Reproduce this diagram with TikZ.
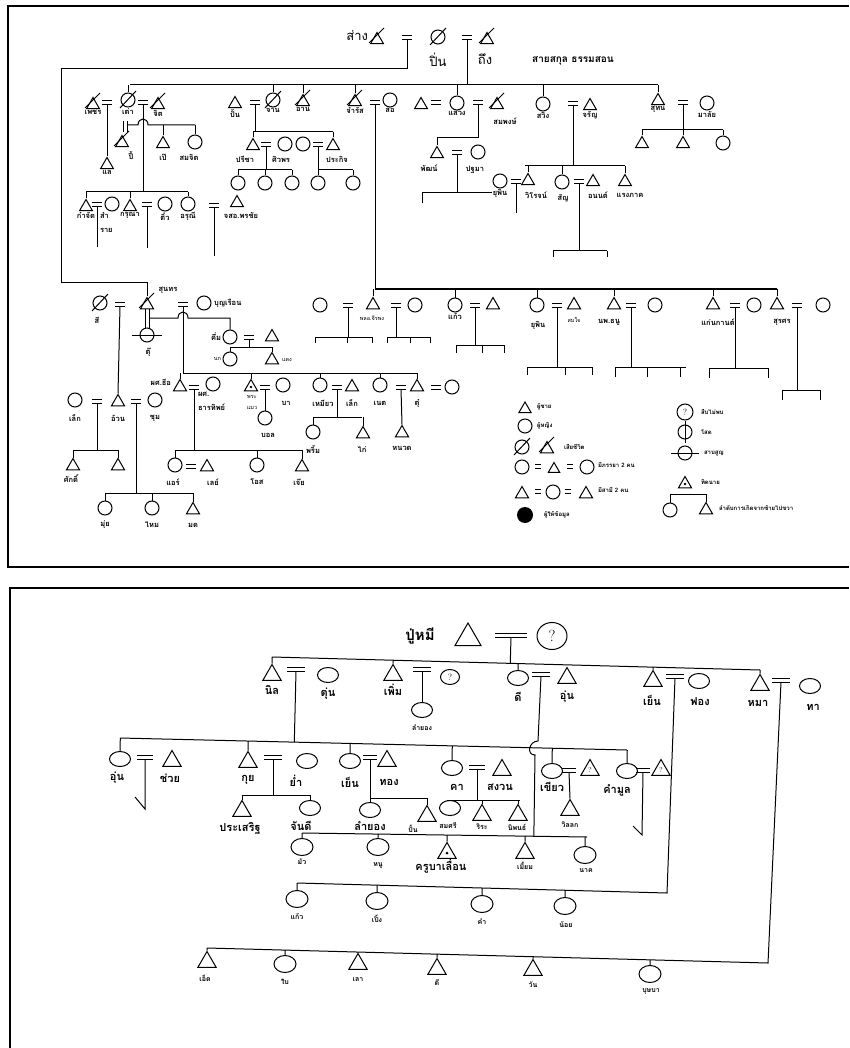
\documentclass[tikz,border=0pt]{standalone}
\usepackage{fontspec}
\newfontfamily\thai[Script=Thai]{Loma}
\usetikzlibrary{shapes.geometric,calc}
\tikzset{
  M/.style={regular polygon, regular polygon sides=3, draw, minimum size=15pt, inner sep=0pt},
  F/.style={circle, draw, minimum size=14pt, inner sep=0pt},
  MB/.style={regular polygon, regular polygon sides=3, draw, minimum size=21pt, inner sep=0pt},
  FB/.style={ellipse, draw, minimum width=21pt, minimum height=15pt, inner sep=0pt},
  lab/.style={font=\thai\bfseries\fontsize{7.5}{8}\selectfont, inner sep=0.5pt},
  slab/.style={font=\thai\fontsize{5.5}{6}\selectfont, inner sep=0.5pt},
  tlab/.style={font=\thai\fontsize{13}{14}\selectfont, inner sep=0.5pt},
  blab/.style={font=\thai\bfseries\fontsize{11}{12}\selectfont, inner sep=0.5pt},
  clab/.style={font=\thai\bfseries\fontsize{7}{8}\selectfont, inner sep=0.5pt},
  leg/.style={font=\thai\bfseries\fontsize{6}{7}\selectfont, inner sep=0.5pt, anchor=west},
}
\newcommand\mrg[4][10]{\coordinate (#2) at (#3,#4+2);
  \draw (#3-#1/2,#4-2) -- (#3+#1/2,#4-2) (#3-#1/2,#4+2) -- (#3+#1/2,#4+2);}
\newcommand\deadmk[1]{\draw ([shift={(-8,8)}]#1.center) -- ([shift={(8,-9)}]#1.center);}
\newcommand\deadtr[1]{\draw ([shift={(-8,3)}]#1.center) -- ([shift={(7,-12)}]#1.center);}
\newcommand\drp[3]{\draw (#1) -- ($(#2)!(#1)!(#3)$);}
\newcommand\tks[3]{\foreach \k in {#3} \draw (\k.north) -- ($(#1)!(\k.north)!(#2)$);}
\newcommand\frk[6]{\coordinate (#1L) at (#3,#2); \coordinate (#1R) at (#4,#2);
  \draw (#1L) -- (#1R); \drp{#1}{#1L}{#1R}
  \foreach \t in {#5}{\coordinate (#1E) at (\t,#2+#6); \draw (#1E) -- ++(0,-#6);}}
\begin{document}
\begin{tikzpicture}[x=1pt,y=-1pt,line width=1pt]
\useasboundingbox (0,0) rectangle (849,1048);
% ================= TOP PANEL =================
\draw[line width=1.3pt] (849,6) -- (8,6) -- (8,567) -- (849,567);
% founders
\node[M] (sang) at (377,40) {}; \deadtr{sang}
\node[tlab,anchor=east] (tsang) at (369,36) {ส่าง};
\mrg{m0}{407}{38}
\node[F] (pin) at (438,37) {}; \deadmk{pin}
\mrg{m0b}{467}{38}
\node[M] (thueng) at (487,40) {}; \deadtr{thueng}
\node[tlab] (tpin) at (438,60) {ปิ่น};
\node[tlab] (tthueng) at (485,59) {ถึง};
\node[font=\thai\bfseries\fontsize{10}{11}\selectfont] (tsakun) at (573,61) {สายสกุล ธรรมสอน};
% generation 1
\node[M,label={[lab]below:เพชร}] (phet) at (93,105) {}; \deadtr{phet}
\mrg{mPT}{107}{103}
\node[F,label={[lab]below:เต่า}] (tao) at (128,100) {}; \deadmk{tao}
\mrg{mTJ}{143}{103}
\node[M,label={[lab]below:จิต}] (jit) at (158,105) {}; \deadtr{jit}
\node[M,label={[lab]below:ปั้น}] (pan) at (235,104) {};
\mrg{mPJ}{255}{103}
\node[F,label={[lab]below:จาน}] (jan) at (273,100) {}; \deadmk{jan}
\node[M,label={[lab]below:อาน}] (aan) at (303,102) {}; \deadtr{aan}
\node[M,label={[lab]below:จำรัส}] (jamrat) at (355,102) {}; \deadtr{jamrat}
\mrg{mJS}{375}{103}
\node[F,label={[lab]below:สอ}] (so) at (390,100) {};
\node[M] (sawh) at (421,105) {};
\mrg{mSW1}{436}{103}
\node[F,label={[lab]below:แสวง}] (sawaeng) at (457,103) {};
\mrg{mSW2}{478}{103}
\node[M] (sompong) at (497,105) {}; \deadtr{sompong}
\node[lab] (tsompong) at (505,121) {สมพงษ์};
\node[F,label={[lab]below:สวิง}] (sawing) at (543,104) {};
\mrg{mJR}{573}{104}
\node[M,label={[lab]below:จรัญ}] (jaran) at (590,106) {};
\node[M,label={[lab]below:สุทน}] (suthon) at (658,101) {};
\mrg{mSM}{683}{103}
\node[F,label={[lab]below:มาลัย}] (malai) at (707,103) {};
\coordinate (g1L) at (130,85); \coordinate (g1R) at (658,85);
\draw (g1L) -- (g1R);
\drp{m0b}{g1L}{g1R}
\tks{g1L}{g1R}{tao,jan,aan,jamrat,sawaeng,sawing,suthon}
% sang -> sunthon
\coordinate (j1) at (61,69); \coordinate (j2) at (61,283);
% phet = tao
\node[M,label={[lab]below:แล}] (lae) at (107,165) {};
\draw (mPT) -- (lae.north);
% tao = jit, crossing line
\node[M] (pi) at (122,143) {}; \deadtr{pi}
\node[lab] (tpi) at (131,156) {ปี้};
\node[M] (pe) at (163,144) {};
\node[lab] (tpe) at (163,157) {เป๊};
\node[F] (somjit) at (195,142) {};
\node[lab] (tsomjit) at (189,157) {สมจิต};
\coordinate (h1L) at (127,125); \coordinate (h1R) at (195,125);
\draw (123,121) -- (123,132);
\draw (127,121) -- (127,132);
\draw (h1L) -- ++(11,0) .. controls +(0,-8) and +(0,-8) .. ++(10,0) -- (h1R);
\draw (pe.north) -- (pe.north |- h1R);
\draw (somjit.north) -- (somjit.north |- h1R);
\coordinate (g2L) at (86,192); \coordinate (g2R) at (188,192);
\draw (g2L) -- (g2R); \drp{mTJ}{g2L}{g2R}
\node[M,label={[lab]below:ก๋าจัด}] (kajat) at (86,207) {};
\mrg{mKS}{97}{205}
\node[F] (samrai) at (112,204) {};
\node[lab,anchor=west] (tsam1) at (99,215) {สำ};
\node[lab,anchor=west] (tsam2) at (99,230) {ราย};
\node[M,label={[lab]below:กรุณา}] (karuna) at (130,207) {};
\mrg{mKT}{147}{205}
\node[F,label={[lab]below:ติ๋ว}] (tiw) at (165,204) {};
\node[F,label={[lab]below:อรุณี}] (arunee) at (188,204) {};
\mrg{mAP}{214}{206}
\node[M] (pornchai) at (237,203) {};
\node[lab] (tporn) at (241,215) {จสอ.พรชัย};
\tks{g2L}{g2R}{kajat,karuna,arunee}
\coordinate (e1) at (97,247); \draw (mKS) -- (e1);
\coordinate (e2) at (147,248); \draw (mKT) -- (e2);
\coordinate (e3) at (214,256); \draw (mAP) -- (e3);
% pan = jan
\coordinate (g5L) at (253,132); \coordinate (g5R) at (333,132);
\draw (g5L) -- (g5R); \drp{mPJ}{g5L}{g5R}
\node[M] (preecha) at (253,146) {}; \node[lab] (tpree) at (245,159) {ปรีชา};
\mrg{mPS}{266}{145}
\node[F] (siwaporn) at (285,144) {}; \node[lab] (tsiwa) at (281,159) {ศิวพร};
\node[F] (cx) at (303,144) {};
\mrg{mCP}{318}{145}
\node[M] (prakit) at (333,146) {}; \node[lab] (tprakit) at (337,159) {ประกิจ};
\tks{g5L}{g5R}{preecha,prakit}
\coordinate (g6L) at (238,170); \coordinate (g6R) at (292,170);
\draw (g6L) -- (g6R); \drp{mPS}{g6L}{g6R}
\node[F] (k61) at (238,183) {}; \node[F] (k62) at (265,183) {}; \node[F] (k63) at (292,183) {};
\tks{g6L}{g6R}{k61,k62,k63}
\coordinate (g7L) at (318,170); \coordinate (g7R) at (353,170);
\draw (g7L) -- (g7R); \drp{mCP}{g7L}{g7R}
\node[F] (k71) at (318,183) {}; \node[F] (k72) at (353,183) {};
\tks{g7L}{g7R}{k71,k72}
% jamrat = so -> big line
\coordinate (g3L) at (375,289); \coordinate (g3R) at (777,289);
\draw (mJS) -- (g3L) -- (g3R);
% sawaeng = sompong
\coordinate (k1) at (478,138);
\node[M] (phat) at (437,154) {}; \node[lab] (tphat) at (429,168) {พัฒน์};
\draw (mSW2) -- (k1) -| (phat.north);
\mrg{mPP}{457}{153}
\node[F] (pathama) at (478,152) {}; \node[lab] (tpath) at (475,170) {ปฐมา};
\coordinate (g8L) at (422,193); \coordinate (f1) at (422,203);
\node[lab] (yupin1) at (500,193) {ยุพิน};
\draw (f1) -- (g8L) -- (yupin1.west); \drp{mPP}{g8L}{yupin1.west}
% jaran
\coordinate (g9L) at (525,166); \coordinate (g9R) at (625,166);
\draw (g9L) -- (g9R); \drp{mJR}{g9L}{g9R}
\node[F] (cw) at (500,181) {};
\mrg{mVW}{516}{182}
\node[M] (wirot) at (528,181) {}; \node[lab] (twirot) at (536,195) {วิโรจน์};
\coordinate (f2) at (516,213); \draw (mVW) -- (f2);
\node[F] (san) at (562,182) {}; \node[lab] (tsan) at (563,198) {สัญ};
\mrg{mSA}{579}{182}
\node[M] (anon) at (593,182) {}; \node[lab] (tanon) at (598,195) {อนนต์};
\node[M] (raeng) at (625,182) {}; \node[lab] (traeng) at (630,195) {แรงภาค};
\tks{g9L}{g9R}{wirot,san,raeng}
\frk{mSA}{251}{553}{607}{553,607}{6}
% suthon = malai
\coordinate (g10L) at (642,130); \coordinate (g10R) at (723,130);
\draw (g10L) -- (g10R); \drp{mSM}{g10L}{g10R}
\node[M] (s1) at (642,144) {}; \node[M] (s2) at (683,144) {}; \node[F] (s3) at (723,143) {};
\tks{g10L}{g10R}{s1,s2,s3}
% lower left
\node[F] (lee) at (100,303) {}; \deadmk{lee}
\node[lab] (tlee) at (97,320) {สี};
\mrg{mLS}{120}{304}
\node[M] (sunthon) at (147,305) {}; \deadtr{sunthon}
\node[lab] (tsunthon) at (168,290) {สุนทร};
\draw (m0) |- (j1) -- (j2) -| (sunthon.north);
\node[F] (tu) at (147,335) {};
\draw ([xshift=-15]tu.center) -- ([xshift=15]tu.center);
\node[lab] (ttu) at (148,352) {ตุ๊};
\draw ([xshift=-2]sunthon.south) -- ([xshift=-2]tu.north);
\draw ([xshift=2]sunthon.south) -- ([xshift=2]tu.north);
\mrg{mSB}{183}{304}
\node[F] (bunruean) at (204,303) {};
\node[lab,anchor=west] (tbun) at (213,303) {บุญเรือน};
\node[F] (kuem) at (230,337) {}; \node[lab,anchor=east] (tkuem) at (222,337) {คึ่ม};
\coordinate (h2L) at (149,318);
\draw (h2L) -- ++(29,0) .. controls +(0,-8) and +(0,-8) .. ++(10,0) -| (kuem.north);
\mrg{mKM2}{249}{337}
\node[M] (km) at (272,337) {};
\coordinate (g11L) at (230,347); \coordinate (g11R) at (272,347);
\draw (g11L) -- (g11R); \drp{mKM2}{g11L}{g11R}
\node[F] (nok) at (230,359) {}; \node[slab,anchor=east] (tnok) at (222,359) {นก};
\node[M] (daeng) at (272,360) {}; \node[slab,anchor=west] (tdaeng) at (281,360) {แดง};
\tks{g11L}{g11R}{nok,daeng}
\coordinate (g4L) at (183,373); \coordinate (g4R) at (417,373);
\draw (g4L) -- (g4R); \drp{mSB}{g4L}{g4R}
\node[M] (tee) at (180,387) {}; \node[lab,anchor=east] (ttee) at (172,382) {ผศ.ธีอ};
\mrg{mTT}{194}{387}
\node[F] (thip) at (213,384) {};
\node[lab,anchor=west] (tthip1) at (197,394) {ผศ.};
\node[lab,anchor=west] (tthip2) at (197,407) {ธารทิพย์};
\node[M] (phra) at (251,387) {}; \fill (phra.center) circle (1.3);
\node[slab] (tphra1) at (252,397) {พระ}; \node[slab] (tphra2) at (252,408) {แมว};
\mrg{mPB}{265}{387}
\node[F] (ba) at (283,385) {}; \node[lab] (tba) at (286,403) {บา};
\node[F] (bon) at (265,418) {}; \node[lab] (tbon) at (268,435) {บอล};
\draw (mPB) -- (bon.north);
\node[F] (miaw) at (320,385) {}; \node[lab] (tmiaw) at (323,403) {เหมียว};
\mrg{mML}{337}{387}
\node[M] (lek) at (352,387) {}; \node[lab] (tlek) at (352,403) {เล็ก};
\coordinate (g12L) at (313,417); \coordinate (g12R) at (362,417);
\draw (g12L) -- (g12R); \drp{mML}{g12L}{g12R}
\node[F] (phrim) at (313,432) {}; \node[lab] (tphrim) at (313,450) {พริ้ม};
\node[M] (kai) at (363,434) {}; \node[lab] (tkai) at (362,450) {ไก่};
\tks{g12L}{g12R}{phrim,kai}
\node[F] (net) at (380,385) {}; \node[lab] (tnet) at (380,403) {เนต};
\mrg{mNT}{401}{387}
\node[M] (tu2) at (417,387) {}; \node[lab] (ttu2) at (417,403) {ตุ๋};
\node[M] (nuat) at (402,433) {}; \node[lab] (tnuat) at (402,448) {หนวด};
\draw (mNT) -- (nuat.north);
\mrg{mT2}{436}{387}
\node[F] (c452) at (452,387) {};
\tks{g4L}{g4R}{tee,phra,miaw,net,tu2}
\coordinate (g13L) at (175,450); \coordinate (g13R) at (302,450);
\draw (g13L) -- (g13R); \drp{mTT}{g13L}{g13R}
\node[F] (air) at (175,465) {}; \node[lab] (tair) at (173,482) {แอร์};
\mrg{mAL}{191}{466}
\node[M] (lei) at (207,467) {}; \node[lab] (tlei) at (213,482) {เลย์};
\node[F] (oas) at (257,465) {}; \node[lab] (toas) at (257,482) {โอส};
\node[M] (oei) at (302,467) {}; \node[lab] (toei) at (299,482) {เจ๊ย};
\tks{g13L}{g13R}{air,oas,oei}
\node[F] (lek2) at (75,400) {}; \node[lab] (tlek2) at (75,418) {เล็ก};
\mrg{mLU}{97}{401}
\node[M] (uan) at (118,402) {}; \node[lab] (tuan) at (118,418) {อ้วน};
\draw (mLS) -- (uan.north);
\mrg{mUC}{136}{401}
\node[F] (chum) at (155,400) {}; \node[lab] (tchum) at (155,418) {ชุม};
\coordinate (g14L) at (73,450); \coordinate (g14R) at (118,450);
\draw (g14L) -- (g14R); \drp{mLU}{g14L}{g14R}
\node[M] (sak) at (73,466) {}; \node[lab] (tsak) at (71,479) {ศักดิ์};
\node[M] (sak2) at (118,466) {};
\tks{g14L}{g14R}{sak,sak2}
\coordinate (g15L) at (105,493); \coordinate (g15R) at (193,493);
\draw (g15L) -- (g15R); \drp{mUC}{g15L}{g15R}
\node[F] (mui) at (105,508) {}; \node[lab] (tmui) at (105,525) {มุ่ย};
\node[F] (mai) at (152,508) {}; \node[lab] (tmai) at (152,525) {ไหม};
\node[M] (mot) at (193,510) {}; \node[lab] (tmot) at (193,525) {มด};
\tks{g15L}{g15R}{mui,mai,mot}
% big line row
\node[F] (c320) at (320,305) {};
\mrg{mC1}{348}{305}
\node[M] (pol) at (373,305) {}; \node[slab] (tpol) at (372,318) {พลอ.จีรพง};
\mrg{mC2}{396}{305}
\node[F] (c415) at (415,305) {};
\node[F,label={[lab]below:แก้ว}] (kaew) at (455,305) {};
\mrg{mKW}{475}{305}
\node[M] (kw) at (493,305) {};
\node[F] (yupin2) at (537,305) {}; \node[lab] (tyupin2) at (538,325) {ยุพิน};
\mrg{mYP}{557}{305}
\node[M] (somjai) at (574,305) {}; \node[slab] (tsomjai) at (574,320) {สมใจ};
\node[M] (thanu) at (614,305) {}; \node[lab] (tthanu) at (609,322) {นพ.ธนู};
\mrg{mTN}{631}{305}
\node[F] (c655) at (655,305) {};
\node[M] (kaen) at (713,305) {}; \node[lab] (tkaen) at (718,322) {แก่นกานต์};
\mrg{mKN}{735}{305}
\node[F] (c754) at (754,305) {};
\node[M] (suras) at (777,305) {}; \node[lab] (tsuras) at (782,322) {สุรศร};
\mrg{mSR}{797}{305}
\node[F] (c823) at (823,305) {};
\tks{g3L}{g3R}{pol,kaew,yupin2,thanu,kaen,suras}
\frk{mC1}{337}{315}{372}{315,347,372}{6}
\frk{mC2}{337}{387}{430}{387,410,430}{6}
\frk{mKW}{345}{456}{504}{456,482,504}{8}
\frk{mYP}{367}{527}{592}{527,565,592}{8}
\frk{mTN}{367}{615}{686}{615,647,680}{10}
\frk{mKN}{368}{709}{768}{709,768}{10}
\frk{mSR}{390}{782}{820}{782,820}{10}
% legend
\node[M,minimum size=14pt] (lgm) at (525,409) {}; \node[leg] (tlgm) at (536,407) {ผู้ชาย};
\node[F] (lgf) at (525,426) {}; \node[leg] (tlgf) at (536,426) {ผู้หญิง};
\node[F] (lgd1) at (522,447) {}; \deadmk{lgd1}
\node[M] (lgd2) at (547,449) {}; \deadtr{lgd2}
\node[leg] (tlgd) at (563,447) {เสียชีวิต};
\node[F] (lw1) at (522,467) {}; \mrg[6]{lwm1}{538}{466} \node[M,minimum size=13pt] (lw2) at (554,469) {};
\mrg[6]{lwm2}{570}{466} \node[F] (lw3) at (587,467) {}; \node[leg] (tlw) at (597,465) {มีภรรยา 2 คน};
\node[M] (lh1) at (522,494) {}; \mrg[6]{lhm1}{538}{491} \node[F] (lh2) at (553,492) {};
\mrg[6]{lhm2}{568}{491} \node[M] (lh3) at (586,494) {}; \node[leg] (tlh) at (597,490) {มีสามี 2 คน};
\node[circle,fill,minimum size=16pt,inner sep=0] (lginf) at (525,515) {}; \node[leg] (tlginf) at (543,515) {ผู้ให้ข้อมูล};
\node[F,minimum size=16pt] (lgq) at (685,412) {\fontsize{9}{9}\selectfont ?}; \node[leg] (tlgq) at (700,412) {สืบไม่พบ};
\node[F] (lgs) at (685,432) {}; \draw ([yshift=-11]lgs.center) -- ([yshift=11]lgs.center);
\node[leg] (tlgs) at (700,432) {โสด};
\node[F] (lgl) at (685,453) {}; \draw ([xshift=-14]lgl.center) -- ([xshift=14]lgl.center);
\node[leg] (tlgl) at (703,453) {สาบสูญ};
\node[M] (lgt) at (685,484) {}; \fill (lgt.center) circle (1.3); \node[leg] (tlgt) at (700,482) {ทิดนาย};
\node[F] (lgo1) at (670,510) {}; \node[M] (lgo2) at (706,510) {};
\draw (lgo1.north) -- ++(0,-8) -| (lgo2.north);
\node[leg] (tlgo) at (718,508) {ลำดับการเกิดจากซ้ายไปขวา};
% ================= BOTTOM PANEL =================
\draw[line width=1.3pt] (849,588) -- (10,588) -- (10,1048);
\node[font=\thai\bfseries\fontsize{15}{16}\selectfont] (tpumi) at (420,636) {ปู่หมี};
\node[regular polygon, regular polygon sides=3, draw, minimum size=30pt, inner sep=0] (mi) at (468,638) {};
\mrg[32]{mQ}{511}{635}
\node[ellipse,draw,minimum width=30pt,minimum height=27pt,inner sep=0] (qa) at (552,636) {\fontsize{16}{16}\selectfont ?};
\coordinate (b1L) at (272,657); \coordinate (b1R) at (760,670);
\draw (b1L) -- (b1R); \drp{mQ}{b1L}{b1R}
\node[MB] (nil) at (272,675) {}; \node[blab] (tnil) at (272,690) {นิล};
\mrg[18]{mNT1}{296}{669}
\node[FB] (tun) at (328,675) {}; \node[blab] (ttun) at (328,694) {ตุ่น};
\node[MB] (phoem) at (393,675) {}; \node[blab] (tphoem) at (393,690) {เพิ่ม};
\mrg[18]{mPQ}{422}{669}
\node[ellipse,draw,minimum width=19pt,minimum height=15pt,inner sep=0] (qb) at (450,677) {\fontsize{9}{9}\selectfont ?};
\node[FB] (lamyong1) at (422,710) {}; \node[clab] (tlam1) at (422,728) {ลำยอง};
\draw (mPQ) -- (lamyong1.north);
\node[FB] (dee) at (518,678) {}; \node[blab] (tdee) at (518,697) {ดี};
\mrg[18]{mDU}{541}{674}
\node[MB] (un) at (567,678) {}; \node[blab] (tun1) at (567,697) {อุ่น};
\node[MB] (yen) at (653,681) {}; \node[blab] (tyen) at (652,700) {เย็น};
\mrg[18]{mYF}{675}{676}
\node[FB] (fong) at (699,681) {}; \node[blab] (tfong) at (700,702) {ฟอง};
\node[MB] (ma) at (760,685) {}; \node[blab] (tma) at (758,703) {หมา};
\mrg[18]{mMT}{781}{680}
\node[FB] (tha) at (810,686) {}; \node[blab] (ttha) at (813,707) {ทา};
\tks{b1L}{b1R}{nil,phoem,dee,yen,ma}
% generation 2
\coordinate (b2L) at (120,738); \coordinate (b2R) at (627,750);
\draw (b2L) -- (b2R); \drp{mNT1}{b2L}{b2R}
\node[FB] (un2) at (120,759) {}; \node[blab] (tun2) at (117,778) {อุ่น};
\mrg[16]{mUC2}{145}{757}
\node[MB] (chuay) at (172,761) {}; \node[blab] (tchuay) at (170,778) {ช่วย};
\coordinate (ck1) at (145,809); \coordinate (ck2) at (135,797);
\draw (mUC2) -- (ck1) -- (ck2);
\node[MB] (kuy) at (248,762) {}; \node[blab] (tkuy) at (248,780) {กุย};
\mrg[18]{mKY}{273}{757}
\node[FB] (yam) at (307,761) {}; \node[blab] (tyam) at (296,781) {ย่ำ};
\coordinate (b4L) at (242,795); \coordinate (b4R) at (310,795);
\draw (b4L) -- (b4R); \drp{mKY}{b4L}{b4R}
\node[MB] (prasoet) at (242,811) {}; \node[blab] (tpras) at (240,828) {ประเสริฐ};
\node[FB] (jandee) at (310,808) {}; \node[blab] (tjan) at (301,826) {จันดี};
\tks{b4L}{b4R}{prasoet,jandee}
\node[FB] (yen2) at (350,761) {}; \node[blab] (tyen2) at (350,782) {เย็น};
\mrg[14]{mYT}{370}{757}
\node[MB] (thong) at (387,761) {}; \node[blab] (tthong) at (389,782) {ทอง};
\coordinate (b5L) at (370,798); \coordinate (b5R) at (427,798);
\draw (b5L) -- (b5R); \drp{mYT}{b5L}{b5R}
\node[FB] (lamyong2) at (370,810) {}; \node[blab] (tlam2) at (370,826) {ลำยอง};
\node[MB] (pan2) at (427,816) {}; \node[clab] (tpan2) at (413,829) {ปั้น};
\tks{b5L}{b5R}{lamyong2,pan2}
\node[FB] (kha) at (452,768) {}; \node[blab] (tkha) at (457,787) {คา};
\mrg[16]{mKS2}{477}{767}
\node[MB] (sanguan) at (502,770) {}; \node[blab] (tsang2) at (500,787) {สงวน};
\coordinate (b6L) at (447,800); \coordinate (b6R) at (520,800);
\draw (b6L) -- (b6R); \drp{mKS2}{b6L}{b6R}
\node[FB] (somsri) at (450,808) {}; \node[clab] (tsomsri) at (448,826) {สมศรี};
\node[MB] (rira) at (482,815) {}; \node[clab] (trira) at (482,827) {ริระ};
\node[MB] (niphon) at (518,815) {}; \node[clab] (tniphon) at (517,827) {นิพนธ์};
\tks{b6L}{b6R}{rira,niphon}
\node[FB] (khiaw) at (552,771) {}; \node[blab] (tkhiaw) at (552,787) {เขียว};
\mrg[14]{mKQ}{569}{770}
\node[MB] (kq) at (590,770) {\fontsize{7}{7}\selectfont ?};
\node[MB] (wilok) at (570,810) {}; \node[clab] (twilok) at (570,825) {วิลลก};
\draw (mKQ) -- (wilok.north);
\node[FB] (khammun) at (627,771) {}; \node[blab] (tkhammun) at (617,790) {คำมูล};
\mrg[14]{mKM}{643}{770}
\node[MB] (km2) at (661,770) {\fontsize{7}{7}\selectfont ?};
\coordinate (ck3) at (642,835); \coordinate (ck4) at (633,826);
\draw (mKM) -- (ck3) -- (ck4);
\tks{b2L}{b2R}{un2,kuy,yen2,kha,khiaw,khammun}
% dee's children, line hops over gen-2 line
\coordinate (b3L) at (302,833); \coordinate (b3R) at (587,837);
\coordinate (hpA) at (538,741); \coordinate (hpB) at (535,755);
\draw (b3L) -- (b3R);
\draw (mDU) -- (hpA) .. controls +(-9,0) and +(-9,0) .. (hpB) -- ($(b3L)!(hpB)!(b3R)$);
\node[FB,minimum width=22pt,minimum height=17pt] (mua) at (302,847) {}; \node[clab] (tmua) at (302,862) {มัว};
\node[FB,minimum width=22pt,minimum height=17pt] (nu) at (378,847) {}; \node[clab] (tnu) at (378,865) {หนู};
\node[MB] (khruba) at (447,853) {}; \fill (khruba.center) circle (1.5);
\node[blab] (tkhruba) at (441,866) {ครูบาเลื่อน};
\node[MB] (miam) at (525,853) {}; \node[clab] (tmiam) at (525,866) {เมี้ยม};
\node[FB,minimum width=22pt,minimum height=17pt] (nak) at (585,855) {}; \node[clab] (tnak) at (586,871) {นาค};
\tks{b3L}{b3R}{mua,nu,khruba,miam,nak}
% yen = fong children
\coordinate (b7L) at (297,883); \coordinate (b7R) at (667,893);
\draw (mYF) -- (b7R) -- (b7L);
\node[FB,minimum width=22pt,minimum height=17pt] (kaew2) at (297,899) {}; \node[clab] (tkaew2) at (297,917) {แก้ว};
\node[FB,minimum width=22pt,minimum height=17pt] (peng) at (377,901) {}; \node[clab] (tpeng) at (377,919) {เปิ้ง};
\node[FB,minimum width=22pt,minimum height=17pt] (kham) at (482,904) {}; \node[clab] (tkham) at (482,922) {คำ};
\node[FB,minimum width=22pt,minimum height=17pt] (noi) at (565,906) {}; \node[clab] (tnoi) at (566,925) {น้อย};
\tks{b7L}{b7R}{kaew2,peng,kham,noi}
% ma = tha children
\coordinate (b8L) at (207,948); \coordinate (b8R) at (768,963);
\draw (mMT) -- (b8R) -- (b8L);
\node[MB] (ed) at (207,962) {}; \node[clab] (ted) at (205,978) {เอ็ด};
\node[FB,minimum width=22pt,minimum height=17pt] (bai) at (285,964) {}; \node[clab] (tbai) at (285,982) {ใบ};
\node[MB] (lao) at (358,964) {}; \node[clab] (tlao) at (358,980) {เลา};
\node[MB] (dee2) at (437,969) {}; \node[clab] (tdee2) at (437,983) {ดี};
\node[MB] (wan) at (533,970) {}; \node[clab] (twan) at (533,985) {วัน};
\node[FB,minimum width=22pt,minimum height=17pt] (bussaba) at (650,974) {}; \node[clab] (tbus) at (651,991) {บุษบา};
\tks{b8L}{b8R}{ed,bai,lao,dee2,wan,bussaba}
\end{tikzpicture}
\end{document}
